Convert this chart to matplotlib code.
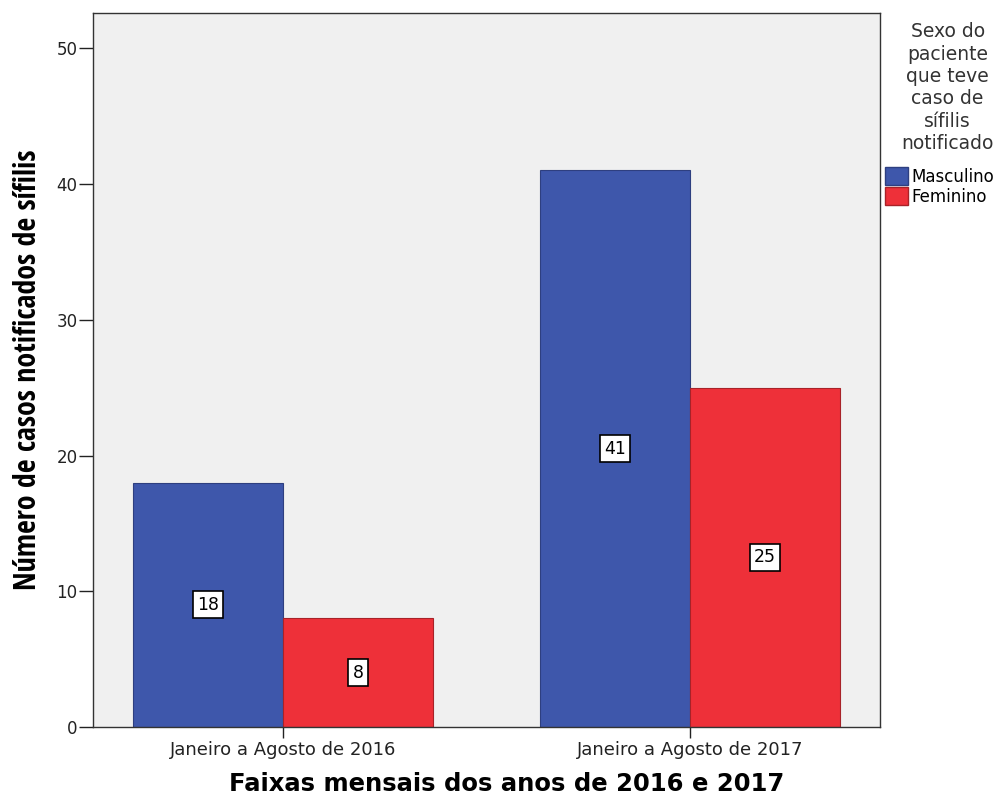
import matplotlib.pyplot as plt
import numpy as np
from matplotlib.patches import Patch

# dados
categorias = ['Janeiro a Agosto de 2016', 'Janeiro a Agosto de 2017']
masculino = [18, 41]
feminino = [8, 25]
series = ['Masculino', 'Feminino']

azul = '#3E57AB'
vermelho = '#EE3039'

plt.rcParams['font.family'] = ['DejaVu Sans']

fig = plt.figure(figsize=(10.06, 7.98), dpi=100)
ax = fig.add_axes([0.0924, 0.089, 0.7824, 0.8947])
ax.set_facecolor('#F0F0F0')

x = np.arange(len(categorias))
w = 0.3686
b1 = ax.bar(x - w / 2, masculino, w, color=azul, edgecolor='#2E3F80', linewidth=0.8)
b2 = ax.bar(x + w / 2, feminino, w, color=vermelho, edgecolor='#A82228', linewidth=0.8)

# rotulos no meio das barras
for barras in (b1, b2):
    for r in barras:
        v = r.get_height()
        ax.text(r.get_x() + r.get_width() / 2, v / 2, f'{v:g}', ha='center', va='center',
                fontsize=12.5, bbox=dict(boxstyle='square,pad=0.25', fc='white', ec='black', lw=1.2))

ax.set_xlim(-0.467, 1.467)
ax.set_ylim(0, 52.6)
ax.set_xticks(x)
ax.set_xticklabels(categorias, fontsize=13)
ax.set_yticks([0, 10, 20, 30, 40, 50])
ax.tick_params(axis='y', labelsize=12, length=10, width=1, pad=1, colors='#222222')
ax.tick_params(axis='x', length=8, width=1, pad=2, colors='#222222')
for s in ax.spines.values():
    s.set_color('#333333')
    s.set_linewidth(1)

ax.set_xlabel('Faixas mensais dos anos de 2016 e 2017', fontsize=17.5, fontweight='bold')
ax.xaxis.set_label_coords(0.525, -0.063)
ax.set_ylabel('Número de casos notificados de sífilis', fontsize=21.5, fontweight='bold',
              family=['Open Sans Condensed', 'DejaVu Sans'], labelpad=10)

fig.text(0.942, 0.972, 'Sexo do\npaciente\nque teve\ncaso de\nsífilis\nnotificado', ha='center', va='top',
         fontsize=13.5, color='#333333', linespacing=1.22)
handles = [Patch(facecolor=azul, edgecolor='#2E3F80'), Patch(facecolor=vermelho, edgecolor='#A82228')]
fig.legend(handles, series, loc='upper left', bbox_to_anchor=(0.876, 0.795), frameon=False,
           fontsize=12, handlelength=1.4, handleheight=1.3, handletextpad=0.2, labelspacing=0.1,
           borderaxespad=0, borderpad=0.2)

plt.savefig('out.png', dpi=100)
plt.close()
